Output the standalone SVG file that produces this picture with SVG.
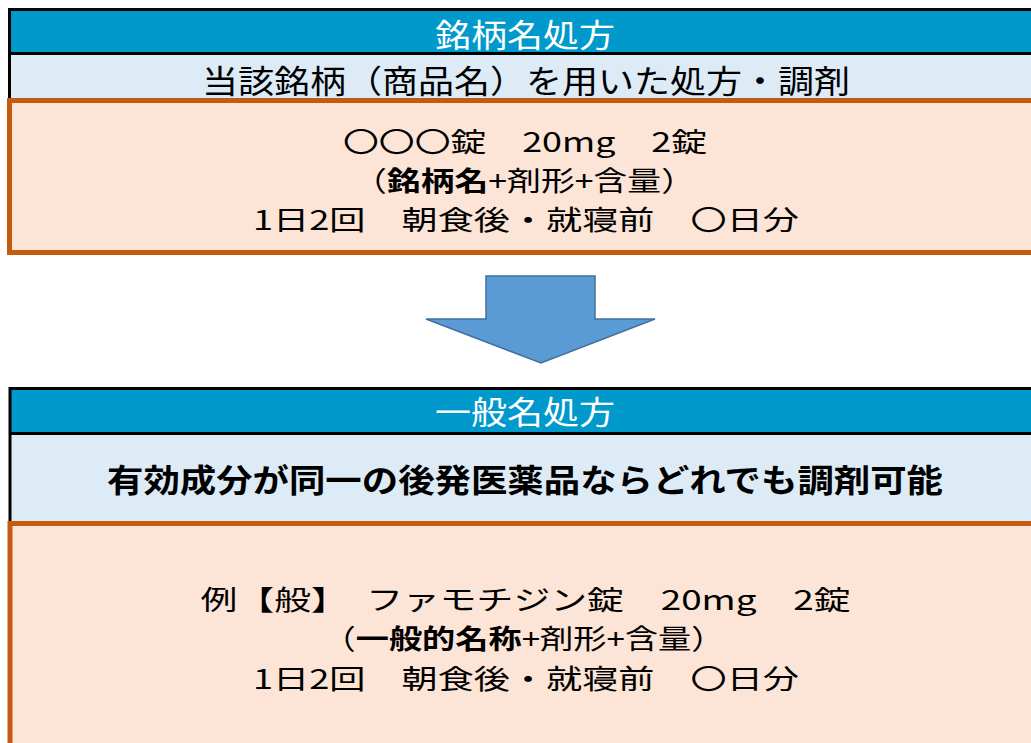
<svg xmlns="http://www.w3.org/2000/svg" width="1031" height="743" viewBox="0 0 1031 743">
<style>
.t{font-family:"Noto Sans CJK JP","Noto Sans",sans-serif;font-size:32px;text-anchor:middle;dominant-baseline:central;fill:#000}
.s{font-size:27.5px}
.w{fill:#fff}
.b{font-weight:bold}
.hdr{fill:#0099cc}
.sub{fill:#ddebf7}
.frame{fill:none;stroke:#000;stroke-width:3}
.body{fill:#fce4d6;stroke:#c55a11;stroke-width:5}
</style>
<rect width="1031" height="743" fill="#fff"/>
<g id="brand-node">
<rect class="hdr" x="9.5" y="9.5" width="1030" height="44"/>
<rect class="sub" x="9.5" y="53.5" width="1030" height="47"/>
<rect class="frame" x="9.5" y="9.5" width="1030" height="91"/>
<line x1="9.5" y1="53.5" x2="1031" y2="53.5" stroke="#000" stroke-width="3"/>
<rect class="body" x="9.5" y="100.5" width="1030" height="152"/>
<text class="t w" x="525" y="33" textLength="180" lengthAdjust="spacingAndGlyphs">銘柄名処方</text>
<text class="t" x="526" y="78.5" textLength="648" lengthAdjust="spacingAndGlyphs">当該銘柄（商品名）を用いた処方・調剤</text>
<text class="t s" x="525" y="140" textLength="364" lengthAdjust="spacingAndGlyphs">〇〇〇錠　20mg　2錠</text>
<text class="t s" x="524" y="179" textLength="342" lengthAdjust="spacingAndGlyphs">（<tspan class="b">銘柄名</tspan>+剤形+含量）</text>
<text class="t s" x="526" y="218" textLength="546" lengthAdjust="spacingAndGlyphs">1日2回　朝食後・就寝前　〇日分</text>
</g>
<g id="connectors">
<path d="M486,276 L595,276 L595,319 L655,319 L541,363 L426,319 L486,319 Z" fill="#5b9bd5" stroke="#41719c" stroke-width="1.5"/>
</g>
<g id="generic-node">
<rect class="hdr" x="10" y="388.5" width="1030" height="45"/>
<rect class="sub" x="10" y="433.5" width="1030" height="90"/>
<rect class="frame" x="10" y="388.5" width="1030" height="135"/>
<line x1="10" y1="433.5" x2="1031" y2="433.5" stroke="#000" stroke-width="3"/>
<rect class="body" x="10" y="523.5" width="1030" height="240"/>
<text class="t w" x="525" y="410" textLength="180" lengthAdjust="spacingAndGlyphs">一般名処方</text>
<text class="t b" x="525" y="478" textLength="836" lengthAdjust="spacingAndGlyphs">有効成分が同一の後発医薬品ならどれでも調剤可能</text>
<text class="t s" x="525.5" y="597.5" textLength="650" lengthAdjust="spacingAndGlyphs">例【般】　ファモチジン錠　20mg　2錠</text>
<text class="t s" x="523.5" y="637" textLength="402" lengthAdjust="spacingAndGlyphs">（<tspan class="b">一般的名称</tspan>+剤形+含量）</text>
<text class="t s" x="526" y="676.5" textLength="546" lengthAdjust="spacingAndGlyphs">1日2回　朝食後・就寝前　〇日分</text>
</g>
</svg>
